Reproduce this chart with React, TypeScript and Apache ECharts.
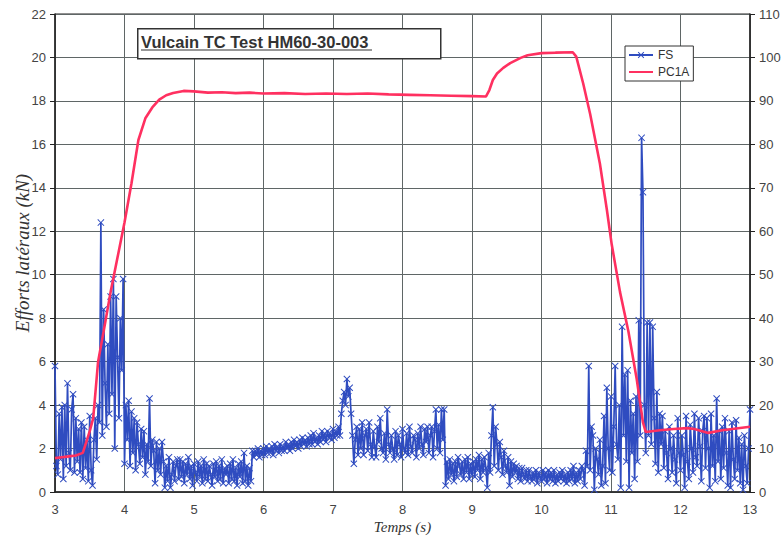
import React, { useEffect, useRef } from "react";
import * as echarts from "echarts";

const TITLE = "Vulcain TC Test HM60-30-003";
const Y_LEFT_NAME = "Efforts latéraux (kN)";
const X_NAME = "Temps (s)";
const SERIES_NAMES = ["FS", "PC1A"];

// FS samples: start time and step (s), values in kN (one row = 0.1 s)
const FS_T0 = 3;
const FS_DT = 0.02;
const fsValues = [
  5.8, 1.2, 0.8, 3.6, 1.5,
  3.9, 0.6, 4.0, 1.2, 5.0,
  1.8, 1.0, 3.8, 4.5, 0.9,
  3.4, 1.4, 2.9, 0.9, 3.2,
  0.6, 3.0, 1.1, 2.4, 0.5,
  3.5, 1.0, 0.3, 2.4, 3.4,
  1.5, 4.0, 3.2, 12.4, 2.6,
  8.4, 5.0, 3.0, 6.8, 3.6,
  9.0, 4.5, 9.8, 2.0, 9.0,
  6.2, 3.4, 8.0, 5.6, 9.8,
  1.3, 4.0, 2.4, 4.2, 1.2,
  3.7, 1.8, 3.4, 1.0, 3.2,
  2.2, 1.3, 2.9, 1.6, 2.8,
  0.8, 2.2, 1.4, 4.3, 1.2,
  2.4, 1.9, 0.4, 2.3, 1.0,
  2.0, 0.8, 2.3, 1.4, 0.2,
  1.2, 0.5, 1.6, 0.2, 0.8,
  1.4, 0.5, 1.2, 1.5, 0.6,
  1.5, 0.7, 1.4, 0.4, 1.3,
  0.8, 1.6, 0.6, 1.2, 0.3,
  1.3, 0.9, 0.5, 1.4, 0.7,
  1.2, 0.4, 1.5, 0.6, 1.3,
  0.5, 1.2, 0.8, 0.3, 1.3,
  0.7, 1.4, 0.5, 1.2, 0.6,
  1.5, 0.4, 1.1, 0.8, 1.2,
  0.4, 1.3, 0.6, 1.5, 0.5,
  1.1, 0.3, 1.3, 0.7, 1.4,
  0.4, 1.8, 0.5, 1.2, 0.3,
  1.1, 0.5, 1.9, 1.6, 1.9,
  1.7, 2.0, 1.6, 1.9, 1.7,
  2.0, 1.7, 2.1, 1.8, 2.0,
  1.8, 2.1, 1.7, 2.2, 1.9,
  2.1, 1.8, 2.2, 1.9, 2.1,
  1.9, 2.3, 2.0, 2.2, 1.9,
  2.3, 2.0, 2.4, 2.1, 2.3,
  2.0, 2.4, 2.1, 2.5, 2.2,
  2.4, 2.1, 2.5, 2.2, 2.6,
  2.2, 2.7, 2.3, 2.5, 2.2,
  2.6, 2.3, 2.8, 2.4, 2.7,
  2.3, 2.8, 2.5, 2.7, 2.4,
  2.9, 2.5, 2.8, 2.6, 3.0,
  2.6, 3.6, 4.2, 4.6, 4.0,
  5.2, 4.4, 4.8, 3.6, 2.6,
  1.3, 2.4, 3.0, 1.7, 2.9,
  2.0, 3.2, 1.7, 2.6, 2.9,
  1.9, 3.2, 2.2, 1.6, 2.8,
  2.1, 1.6, 3.0, 2.3, 3.4,
  2.0, 1.8, 2.7, 1.5, 3.8,
  2.2, 1.8, 2.6, 2.0, 1.5,
  2.8, 1.7, 2.6, 2.2, 1.6,
  2.9, 2.0, 1.8, 2.7, 1.7,
  3.0, 2.1, 1.8, 2.6, 2.4,
  1.6, 2.7, 2.0, 3.0, 2.2,
  1.7, 2.9, 2.3, 3.0, 1.8,
  2.6, 3.0, 1.6, 2.8, 3.8,
  2.0, 3.1, 1.8, 3.8, 2.4,
  3.8, 0.3, 1.4, 0.6, 1.5,
  0.8, 1.3, 0.5, 1.4, 0.7,
  1.6, 1.2, 0.8, 1.4, 0.6,
  1.5, 0.9, 1.6, 0.6, 1.3,
  0.8, 1.4, 0.7, 1.5, 1.0,
  1.7, 0.6, 1.5, 0.9, 1.6,
  1.1, 0.2, 1.8, 0.9, 2.6,
  3.9, 1.2, 3.0, 2.2, 1.0,
  2.3, 1.6, 0.8, 1.9, 1.2,
  0.9, 1.6, 0.3, 1.4, 0.7,
  1.3, 0.9, 1.2, 0.6, 1.1,
  0.5, 1.1, 0.8, 0.6, 1.0,
  0.5, 1.0, 0.7, 0.5, 0.9,
  0.6, 1.0, 0.4, 0.9, 0.7,
  0.5, 1.0, 0.6, 0.9, 0.4,
  1.0, 0.6, 0.9, 0.5, 1.0,
  0.4, 0.8, 0.5, 0.9, 0.6,
  1.0, 0.5, 0.8, 0.4, 0.9,
  0.5, 1.0, 0.6, 1.2, 0.4,
  0.9, 0.5, 1.0, 0.6, 1.2,
  1.0, 0.3, 1.9, 1.2, 5.8,
  1.0, 3.0, 2.6, 0.1, 2.0,
  1.5, 0.8, 2.4, 0.3, 1.2,
  3.5, 0.4, 4.8, 2.0, 1.0,
  4.4, 0.9, 3.0, 5.8, 2.2,
  1.5, 4.0, 0.2, 7.6, 2.6,
  5.4, 1.4, 5.6, 0.2, 4.2,
  1.8, 3.6, 0.6, 4.4, 1.4,
  7.9, 2.6, 16.3, 13.8, 4.0,
  1.8, 7.8, 2.6, 7.8, 2.2,
  7.6, 3.4, 1.3, 4.6, 0.9,
  3.6, 2.2, 3.5, 1.1, 2.8,
  1.8, 0.6, 3.0, 2.0, 0.9,
  2.6, 1.5, 0.4, 3.4, 1.8,
  1.0, 2.6, 1.7, 0.2, 3.5,
  1.4, 0.6, 3.1, 2.0, 0.9,
  3.6, 1.6, 1.2, 3.4, 2.1,
  0.5, 2.8, 3.5, 1.1, 3.4,
  2.0, 0.2, 3.6, 1.2, 2.6,
  0.5, 4.3, 1.4, 2.8, 0.6,
  3.0, 1.1, 3.4, 1.8, 0.3,
  2.8, 0.2, 3.2, 1.5, 0.6,
  3.3, 1.0, 2.5, 0.4, 2.2,
  0.1, 2.6, 1.2, 0.4, 2.0,
  3.8,
];

// PC1A samples (right axis)
const pcTimes = [
  3.0, 3.1, 3.2, 3.3, 3.4, 3.45, 3.5, 3.55, 3.62, 3.7,
  3.8, 3.9, 4.0, 4.1, 4.2, 4.3, 4.4, 4.5, 4.6, 4.7,
  4.85, 5.0, 5.2, 5.4, 5.6, 5.8, 6.0, 6.3, 6.6, 6.9,
  7.2, 7.5, 7.8, 8.1, 8.4, 8.7, 9.0, 9.2, 9.25, 9.3,
  9.36, 9.45, 9.55, 9.7, 9.8, 10.0, 10.2, 10.45, 10.5, 10.6,
  10.7, 10.84, 10.94, 11.01, 11.13, 11.25, 11.37, 11.46, 11.5, 11.7,
  11.9, 12.1, 12.2, 12.4, 12.6, 12.8, 13.0,
];
const pcValues = [
  7.8, 8.0, 8.2, 8.4, 9.0, 11.5, 14.0, 17.0, 30.0, 37.0,
  46.0, 54.0, 62.0, 71.0, 81.0, 86.0, 88.5, 90.3, 91.3, 91.8,
  92.3, 92.2, 91.9, 92.0, 91.8, 91.9, 91.7, 91.8, 91.6, 91.7,
  91.6, 91.7, 91.5, 91.4, 91.3, 91.2, 91.1, 91.0, 92.5, 94.8,
  96.3, 97.6, 98.7, 99.9, 100.5, 101.0, 101.1, 101.2, 100.2, 94.0,
  87.0, 75.6, 65.0, 57.0, 46.0, 37.0, 26.0, 16.0, 13.8, 14.2,
  14.5, 14.7, 14.5, 13.6, 14.2, 14.6, 15.0,
];

const X_MIN = 3, X_MAX = 13;
const YL_MAX = 22, YL_STEP = 2;
const YR_MAX = 110, YR_STEP = 10;

const X_SYMBOL =
  "path://M0,1L1,0L5,4L9,0L10,1L6,5L10,9L9,10L5,6L1,10L0,9L4,5Z";

export default function App() {
  const ref = useRef<HTMLDivElement>(null);
  useEffect(() => {
    document.body.style.margin = "0";
    if (!ref.current) return;
    const chart = echarts.init(ref.current, null, { renderer: "svg" });
    const fsData = fsValues.map((v, i) => [
      +(FS_T0 + i * FS_DT).toFixed(2),
      v,
    ]);
    const pcData = pcTimes.map((t, i) => [t, pcValues[i]]);
    const tickLabel = {
      fontFamily: "Liberation Sans, Arial",
      fontSize: 13,
      color: "#444",
    };
    chart.setOption({
      animation: false,
      backgroundColor: "#fff",
      grid: {
        left: 55,
        right: 32,
        top: 14,
        bottom: 47,
        containLabel: false,
        outerBoundsMode: "none",
        show: true,
        borderColor: "#222",
        borderWidth: 1,
      },
      legend: {
        orient: "vertical",
        left: 625,
        top: 46,
        backgroundColor: "#fff",
        borderColor: "#333",
        borderWidth: 1,
        padding: [3, 4, 3, 3],
        itemGap: 5,
        itemWidth: 24,
        itemHeight: 8,
        textStyle: { fontFamily: "Liberation Sans, Arial", fontSize: 12, color: "#333" },
        data: [
          { name: SERIES_NAMES[0] },
          { name: SERIES_NAMES[1], itemStyle: { opacity: 0 } },
        ],
      },
      xAxis: {
        type: "value",
        min: X_MIN,
        max: X_MAX,
        interval: 1,
        name: X_NAME,
        nameLocation: "middle",
        nameGap: 27,
        nameMoveOverlap: false,
        nameTextStyle: {
          fontFamily: "Liberation Serif, Times New Roman",
          fontStyle: "italic",
          fontSize: 15,
          color: "#333",
        },
        axisLine: { lineStyle: { color: "#222", width: 1.5 } },
        axisTick: { show: false },
        axisLabel: { ...tickLabel, margin: 11 },
        splitLine: { show: true, lineStyle: { color: "#5f6666", width: 1 } },
      },
      yAxis: [
        {
          type: "value",
          min: 0,
          max: YL_MAX,
          interval: YL_STEP,
          name: Y_LEFT_NAME,
          nameLocation: "middle",
          nameGap: 23,
          nameMoveOverlap: false,
          nameTextStyle: {
            fontFamily: "Liberation Serif, Times New Roman",
            fontStyle: "italic",
            fontSize: 19,
            color: "#333",
          },
          axisLine: { show: true, lineStyle: { color: "#222", width: 1.5 } },
          axisTick: { show: true, length: 5, lineStyle: { color: "#222" } },
          axisLabel: { ...tickLabel, margin: 9 },
          splitLine: { show: true, lineStyle: { color: "#5f6666", width: 1 } },
        },
        {
          type: "value",
          min: 0,
          max: YR_MAX,
          interval: YR_STEP,
          position: "right",
          axisLine: { show: true, lineStyle: { color: "#222", width: 1.5 } },
          axisTick: { show: true, length: 5, lineStyle: { color: "#222" } },
          axisLabel: { ...tickLabel, margin: 9 },
          splitLine: { show: false },
        },
      ],
      series: [
        {
          name: SERIES_NAMES[0],
          type: "line",
          yAxisIndex: 0,
          data: fsData,
          symbol: X_SYMBOL,
          symbolSize: 7,
          showSymbol: true,
          showAllSymbol: true,
          lineStyle: { color: "#2f4cc0", width: 1.7 },
          itemStyle: { color: "#2f4cc0" },
          z: 2,
        },
        {
          name: SERIES_NAMES[1],
          type: "line",
          yAxisIndex: 1,
          data: pcData,
          symbol: "none",
          lineStyle: { color: "#ff3060", width: 2.6 },
          itemStyle: { color: "#ff3060" },
          z: 3,
        },
      ],
      graphic: [
        {
          type: "rect",
          left: 137,
          top: 28,
          shape: { width: 303, height: 30 },
          style: { fill: "#fff", stroke: "#333", lineWidth: 1.5 },
          z: 10,
        },
        {
          type: "text",
          left: 141,
          top: 33,
          style: {
            text: TITLE,
            fontFamily: "Liberation Sans, Arial",
            fontWeight: "bold",
            fontSize: 16.5,
            fill: "#333",
          },
          z: 11,
        },
        {
          type: "line",
          shape: { x1: 141, y1: 50, x2: 372, y2: 50 },
          style: { stroke: "#333", lineWidth: 1.2 },
          z: 11,
        },
      ],
    });
    return () => chart.dispose();
  }, []);
  return <div ref={ref} style={{ width: 782, height: 539 }} />;
}
